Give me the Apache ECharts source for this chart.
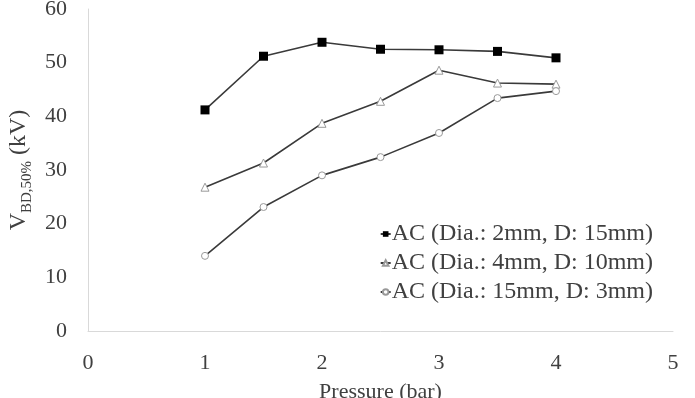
<!DOCTYPE html>
<html>
<head>
<meta charset="utf-8">
<script src="https://cdn.jsdelivr.net/npm/echarts@6/dist/echarts.min.js"></script>
<style>
  html, body { margin: 0; padding: 0; background: #fff; }
  #chart { width: 695px; height: 398px; }
</style>
</head>
<body>
<div id="chart"></div>
<script>
// 数据
var pressure = [1, 1.5, 2, 2.5, 3, 3.5, 4];
var names = ['AC (Dia.: 2mm, D: 15mm)', 'AC (Dia.: 4mm, D: 10mm)', 'AC (Dia.: 15mm, D: 3mm)'];
var v2mm = [41.2, 51.2, 53.8, 52.5, 52.4, 52.1, 50.9];
var v4mm = [26.8, 31.3, 38.7, 42.8, 48.6, 46.2, 46.0];
var v15mm = [14.0, 23.1, 29.0, 32.4, 36.9, 43.4, 44.7];

function pairs(ys) {
  return pressure.map(function (x, i) { return [x, ys[i]]; });
}

var font = "'Liberation Serif', 'Times New Roman', serif";
var textColor = '#404040';

var myChart = echarts.init(document.getElementById('chart'));

var option = {
  animation: false,
  textStyle: { fontFamily: font },
  // 固定绘图区, 不让坐标轴名称把网格挤进去
  grid: { left: 88, right: 22, top: 9, bottom: 67, containLabel: false, outerBoundsMode: 'none' },
  legend: {
    orient: 'vertical',
    right: 37,
    top: 217,
    itemWidth: 10,
    itemHeight: 7,
    itemGap: 5,
    textStyle: { fontFamily: font, fontSize: 24, color: textColor, padding: [0, 0, 0, -4] },
    data: names
  },
  xAxis: {
    type: 'value',
    min: 0,
    max: 5,
    interval: 1,
    name: 'Pressure (bar)',
    nameLocation: 'middle',
    nameGap: 50,
    nameTextStyle: { fontFamily: font, fontSize: 22, color: textColor },
    axisLine: { show: true, lineStyle: { color: '#d9d9d9', width: 1 } },
    axisTick: { show: false },
    splitLine: { show: false },
    axisLabel: { fontFamily: font, fontSize: 22, color: textColor, margin: 21 }
  },
  yAxis: {
    type: 'value',
    min: 0,
    max: 60,
    interval: 10,
    name: '{v|V}{sub|BD,50%}{v| (kV)}',
    nameLocation: 'middle',
    nameRotate: 90,
    nameGap: 50,
    nameTextStyle: {
      rich: {
        v: { fontFamily: font, fontSize: 24, color: textColor, lineHeight: 30 },
        sub: { fontFamily: font, fontSize: 15, color: textColor, lineHeight: 30, verticalAlign: 'bottom', padding: [16, 0, 0, 0] }
      }
    },
    axisLine: { show: true, lineStyle: { color: '#d9d9d9', width: 1 } },
    axisTick: { show: false },
    splitLine: { show: false },
    axisLabel: { fontFamily: font, fontSize: 22, color: textColor, margin: 21 }
  },
  series: [{
    name: names[0],
    type: 'line',
    data: pairs(v2mm),
    symbol: 'rect',
    symbolSize: 9,
    lineStyle: { color: '#3a3a3a', width: 1.6 },
    itemStyle: { color: '#000', borderColor: '#000', borderWidth: 0 }
  }, {
    name: names[1],
    type: 'line',
    data: pairs(v4mm),
    symbol: 'triangle',
    symbolSize: 8,
    lineStyle: { color: '#3a3a3a', width: 1.6 },
    itemStyle: { color: '#fff', borderColor: '#999', borderWidth: 1 }
  }, {
    name: names[2],
    type: 'line',
    data: pairs(v15mm),
    symbol: 'circle',
    symbolSize: 7,
    lineStyle: { color: '#3a3a3a', width: 1.6 },
    itemStyle: { color: '#fff', borderColor: '#999', borderWidth: 1 }
  }]
};

myChart.setOption(option);
</script>
</body>
</html>
